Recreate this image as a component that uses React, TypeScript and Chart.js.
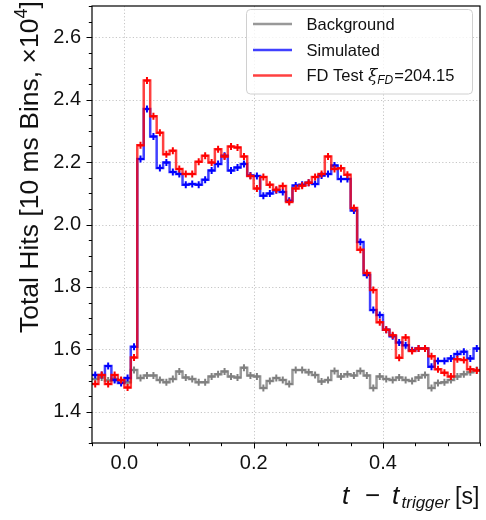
import React, { useEffect, useRef } from "react";
import { Chart, registerables } from "chart.js";

Chart.register(...registerables);

// 10 ms bins starting at t = -0.05 s
const BIN_START = -0.05;
const BIN_WIDTH = 0.01;

const background = [
  1.505, 1.51, 1.5, 1.505, 1.5, 1.495, 1.534, 1.508, 1.516, 1.516,
  1.502, 1.495, 1.505, 1.529, 1.51, 1.505, 1.495, 1.495, 1.513, 1.52,
  1.529, 1.513, 1.51, 1.541, 1.516, 1.513, 1.476, 1.499, 1.508, 1.502,
  1.489, 1.534, 1.534, 1.527, 1.518, 1.497, 1.502, 1.531, 1.513, 1.52,
  1.516, 1.531, 1.516, 1.476, 1.513, 1.505, 1.502, 1.51, 1.502, 1.499,
  1.51, 1.518, 1.476, 1.492, 1.495, 1.502, 1.513, 1.52, 1.527, 1.534,
];

const simulated = [
  1.518, 1.518, 1.547, 1.502, 1.492, 1.508, 1.608, 2.21, 2.37, 2.282,
  2.181, 2.199, 2.168, 2.162, 2.127, 2.13, 2.127, 2.143, 2.173, 2.194,
  2.22, 2.173, 2.183, 2.194, 2.157, 2.155, 2.092, 2.099, 2.11, 2.104,
  2.076, 2.125, 2.127, 2.134, 2.13, 2.157, 2.162, 2.189, 2.146, 2.146,
  2.045, 1.944, 1.838, 1.726, 1.71, 1.663, 1.642, 1.622, 1.613, 1.597,
  1.603, 1.603, 1.544, 1.563, 1.563, 1.571, 1.585, 1.592, 1.571, 1.603,
];

const fdTest = [
  1.489, 1.518, 1.489, 1.518, 1.502, 1.478, 1.574, 2.254, 2.461, 2.347,
  2.294, 2.225, 2.236, 2.178, 2.162, 2.162, 2.201, 2.22, 2.199, 2.241,
  2.218, 2.25, 2.247, 2.218, 2.155, 2.115, 2.152, 2.127, 2.111, 2.123,
  2.072, 2.115, 2.124, 2.134, 2.152, 2.162, 2.218, 2.178, 2.18, 2.159,
  2.053, 1.919, 1.845, 1.79, 1.687, 1.663, 1.645, 1.573, 1.638, 1.595,
  1.603, 1.603, 1.578, 1.536, 1.525, 1.513, 1.568, 1.566, 1.536, 1.532,
];

const xTickLabels = ["0.0", "0.2", "0.4"];
const yTickLabels = ["1.4", "1.6", "1.8", "2.0", "2.2", "2.4", "2.6"];

const X_MIN = -0.05;
const X_MAX = 0.55;
const Y_MIN = 1.3;
const Y_MAX = 2.7;
const MINOR_STEP = 0.05;

const legendItems = [
  { label: "Background", color: "rgba(128,128,128,0.8)" },
  { label: "Simulated", color: "rgba(0,0,255,0.75)" },
  { label: "FD Test", color: "rgba(255,0,0,0.75)" },
];

const TICK_FONT = "Liberation Sans";

function stepPoints(vals: number[]) {
  const pts = vals.map((v, i) => ({ x: BIN_START + i * BIN_WIDTH, y: v }));
  pts.push({ x: BIN_START + vals.length * BIN_WIDTH, y: vals[vals.length - 1] });
  return pts;
}
function centerPoints(vals: number[]) {
  return vals.map((v, i) => ({ x: BIN_START + (i + 0.5) * BIN_WIDTH, y: v }));
}

function fmt(v: number) {
  const r = Math.abs(v) < 1e-9 ? 0 : v;
  return r.toFixed(1);
}
function labelFor(v: number, labels: string[]) {
  const s = fmt(v);
  const k = v / 0.2;
  if (Math.abs(k - Math.round(k)) < 1e-6 && labels.includes(s)) return s;
  return "";
}

const decorPlugin = {
  id: "decor",
  beforeDatasetsDraw(chart: any) {
    const { ctx, chartArea: a, scales } = chart;
    const x = scales.x;
    const y = scales.y;
    ctx.save();
    ctx.strokeStyle = "rgba(176,176,176,0.9)";
    ctx.lineWidth = 0.8;
    ctx.setLineDash([1.2, 2.2]);
    x.ticks.forEach((t: any) => {
      if (labelFor(t.value, xTickLabels)) {
        const px = Math.round(x.getPixelForValue(t.value)) + 0.5;
        ctx.beginPath();
        ctx.moveTo(px, a.top);
        ctx.lineTo(px, a.bottom);
        ctx.stroke();
      }
    });
    y.ticks.forEach((t: any) => {
      if (labelFor(t.value, yTickLabels)) {
        const py = Math.round(y.getPixelForValue(t.value)) + 0.5;
        ctx.beginPath();
        ctx.moveTo(a.left, py);
        ctx.lineTo(a.right, py);
        ctx.stroke();
      }
    });
    ctx.restore();
  },
  afterDraw(chart: any) {
    const { ctx, chartArea: a, scales } = chart;
    const x = scales.x;
    const y = scales.y;
    ctx.save();
    // axes frame
    ctx.strokeStyle = "#000";
    ctx.lineWidth = 1.2;
    ctx.strokeRect(a.left, a.top, a.right - a.left, a.bottom - a.top);
    // tick marks
    ctx.lineWidth = 1;
    x.ticks.forEach((t: any) => {
      const major = !!labelFor(t.value, xTickLabels);
      const px = Math.round(x.getPixelForValue(t.value)) + 0.5;
      ctx.beginPath();
      ctx.moveTo(px, a.bottom);
      ctx.lineTo(px, a.bottom + (major ? 5.5 : 3.2));
      ctx.stroke();
    });
    y.ticks.forEach((t: any) => {
      const major = !!labelFor(t.value, yTickLabels);
      const py = Math.round(y.getPixelForValue(t.value)) + 0.5;
      ctx.beginPath();
      ctx.moveTo(a.left, py);
      ctx.lineTo(a.left - (major ? 5.5 : 3.2), py);
      ctx.stroke();
    });

    ctx.fillStyle = "#111";
    ctx.textBaseline = "alphabetic";
    ctx.textAlign = "left";

    // x axis title: t − t_trigger [s]
    const by = 503.5;
    const pieces: [string, string, number, number][] = [
      ["t", `italic 26px ${TICK_FONT}`, 342, 0],
      ["\u2212", `26px ${TICK_FONT}`, 365, 0],
      ["t", `italic 26px ${TICK_FONT}`, 392, 0],
      ["trigger", `italic 17px ${TICK_FONT}`, 401.5, 4],
      ["[s]", `23px ${TICK_FONT}`, 455, 0],
    ];
    pieces.forEach(([s, f, px, dy]) => {
      ctx.font = f;
      ctx.fillText(s, px, by + dy);
    });

    // y axis title (rotated)
    ctx.save();
    ctx.translate(38, 333);
    ctx.rotate(-Math.PI / 2);
    let tx = 0;
    const ypieces: [string, string, number][] = [
      ["Total Hits [10 ms Bins, \u00d710", `26.5px ${TICK_FONT}`, 0],
      ["4", `18px ${TICK_FONT}`, -11],
      ["]", `26.5px ${TICK_FONT}`, 0],
    ];
    ypieces.forEach(([s, f, dy]) => {
      ctx.font = f;
      ctx.fillText(s, tx, dy);
      tx += ctx.measureText(s).width;
    });
    ctx.restore();

    // legend
    const lx = 246.5;
    const ly = 9.5;
    const lw = 226;
    const lh = 84.5;
    ctx.beginPath();
    (ctx as any).roundRect(lx, ly, lw, lh, 4);
    ctx.fillStyle = "rgba(255,255,255,0.8)";
    ctx.fill();
    ctx.strokeStyle = "#d0d0d0";
    ctx.lineWidth = 1;
    ctx.stroke();
    const rows = [24, 50, 75.5];
    legendItems.forEach((it, i) => {
      ctx.strokeStyle = it.color;
      ctx.lineWidth = 2.6;
      ctx.beginPath();
      ctx.moveTo(253, rows[i]);
      ctx.lineTo(292, rows[i]);
      ctx.stroke();
      ctx.fillStyle = "#111";
      ctx.textBaseline = "middle";
      let px = 306.5;
      ctx.font = `16.5px ${TICK_FONT}`;
      ctx.fillText(it.label, px, rows[i] + 1);
      if (i === 2) {
        px += ctx.measureText(it.label + " ").width;
        ctx.font = `italic 17px DejaVu Serif`;
        ctx.fillText("\u03be", px, rows[i] + 1);
        px += ctx.measureText("\u03be").width;
        ctx.font = `italic 12px ${TICK_FONT}`;
        ctx.fillText("FD", px, rows[i] + 5);
        px += ctx.measureText("FD").width + 1;
        ctx.font = `16.5px ${TICK_FONT}`;
        ctx.fillText("=204.15", px, rows[i] + 1);
      }
    });
    ctx.restore();
  },
};

export default function App() {
  const ref = useRef<HTMLCanvasElement | null>(null);
  useEffect(() => {
    if (!ref.current) return;
    const lineDs = (vals: number[], color: string) => ({
      type: "line" as const,
      data: stepPoints(vals),
      borderColor: color,
      borderWidth: 2.5,
      stepped: "before" as const,
      pointRadius: 0,
      fill: false,
    });
    const markDs = (vals: number[], color: string) => ({
      type: "line" as const,
      data: centerPoints(vals),
      showLine: false,
      pointStyle: "cross" as const,
      pointRadius: 3.5,
      pointBorderWidth: 2,
      pointBorderColor: color,
      pointBackgroundColor: color,
      borderColor: color,
    });
    const chart = new Chart(ref.current, {
      type: "line",
      data: {
        datasets: [
          markDs(fdTest, "rgb(255,0,0)"),
          lineDs(fdTest, "rgba(255,0,0,0.75)"),
          markDs(simulated, "rgb(0,0,255)"),
          lineDs(simulated, "rgba(0,0,255,0.75)"),
          markDs(background, "rgb(128,128,128)"),
          lineDs(background, "rgba(128,128,128,0.8)"),
        ] as any,
      },
      options: {
        animation: false,
        responsive: false,
        devicePixelRatio: 1,
        events: [],
        layout: { padding: { top: 1, right: 4, left: 0, bottom: 0 } },
        plugins: { legend: { display: false }, tooltip: { enabled: false } },
        scales: {
          x: {
            type: "linear",
            min: X_MIN,
            max: X_MAX,
            grid: { display: true, drawOnChartArea: false, tickLength: 6, tickColor: "rgba(0,0,0,0)" },
            border: { display: false },
            ticks: {
              stepSize: MINOR_STEP,
              autoSkip: false,
              maxRotation: 0,
              padding: 2,
              color: "#111",
              font: { family: TICK_FONT, size: 20 },
              callback: (v: any) => labelFor(Number(v), xTickLabels),
            },
            afterFit: (s: any) => {
              s.height = 77;
              s.paddingLeft = 0;
              s.paddingRight = 0;
            },
          },
          y: {
            type: "linear",
            min: Y_MIN,
            max: Y_MAX,
            grid: { display: true, drawOnChartArea: false, tickLength: 6, tickColor: "rgba(0,0,0,0)" },
            border: { display: false },
            ticks: {
              stepSize: MINOR_STEP,
              autoSkip: false,
              padding: 5,
              color: "#111",
              font: { family: TICK_FONT, size: 20 },
              callback: (v: any) => labelFor(Number(v), yTickLabels),
            },
            afterFit: (s: any) => {
              s.width = 92;
              s.paddingTop = 0;
              s.paddingBottom = 0;
            },
          },
        },
      } as any,
      plugins: [decorPlugin],
    });
    return () => chart.destroy();
  }, []);
  return (
    <div style={{ position: "fixed", left: 0, top: 0, width: 486, height: 520, background: "#fff" }}>
      <canvas ref={ref} width={486} height={520} style={{ width: 486, height: 520, display: "block" }} />
    </div>
  );
}
